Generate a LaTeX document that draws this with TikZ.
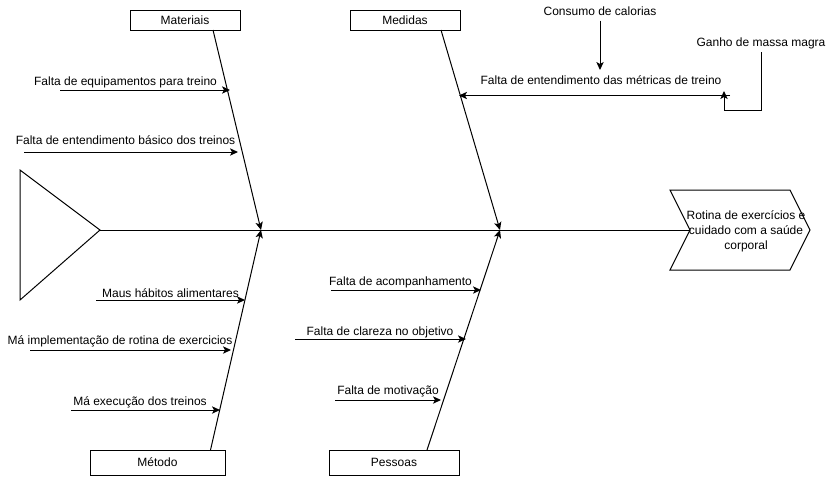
\documentclass[tikz,border=0pt]{standalone}
\usepackage{fontspec}
\setmainfont{Liberation Sans}
\usetikzlibrary{arrows.meta}

\begin{document}
\begin{tikzpicture}[
    x=0.75pt, y=-0.75pt, line width=0.75pt,
    catbox/.style={rectangle, draw, inner sep=0pt, minimum width=82.5pt,
                   minimum height=15pt, font=\fontsize{9}{10.8}\selectfont},
    lbl/.style={inner sep=0pt, anchor=base, font=\fontsize{9}{10.8}\selectfont},
    arr/.style={-{Stealth[length=6pt, width=5.5pt, inset=1.5pt]}}
  ]
    \useasboundingbox (0,0) rectangle (831,476);

    % categories
    \node[catbox] (mat) at (185,20) {Materiais};
    \node[catbox] (med) at (405,20) {Medidas};
    \node[catbox, minimum width=101.25pt, minimum height=18.75pt] (met) at (157.5,462.5) {Método};
    \node[catbox, minimum width=97.5pt, minimum height=18.75pt] (pes) at (394,462.5) {Pessoas};

    % head and spine
    \draw (20,170) -- (100,230) coordinate (tail) -- (20,300) -- cycle;
    \draw (670,190) -- (790,190) -- (810,230) -- (790,270) -- (670,270)
          -- (690,230) coordinate (notch) -- cycle;
    \node[align=center, inner sep=0pt, font=\fontsize{9}{11.25}\selectfont] (eff) at (746,231)
          {Rotina de exercícios e\\cuidado com a saúde\\corporal};
    \draw (tail) -- (notch);

    % bones
    \coordinate (j1) at (261,230);
    \coordinate (j2) at (500,230);
    \coordinate (matft) at (213,30);
    \coordinate (medft) at (441,30);
    \coordinate (metft) at (210.5,450);
    \coordinate (pesft) at (427,450);
    \draw[arr] (matft) -- (j1);
    \draw[arr] (metft) -- (j1);
    \draw[arr] (medft) -- (j2);
    \draw[arr] (pesft) -- (j2);

    % causes, Materiais
    \node[lbl] (eqp) at (125.5,85) {Falta de equipamentos para treino};
    \coordinate (eqp0) at (60,90);  \coordinate (eqp1) at (230,90);
    \draw[arr] (eqp0) -- (eqp1);
    \node[lbl] (bas) at (125.5,144) {Falta de entendimento básico dos treinos};
    \coordinate (bas0) at (24,152); \coordinate (bas1) at (238,152);
    \draw[arr] (bas0) -- (bas1);

    % causes, Método
    \node[lbl] (hab) at (170.5,297) {Maus hábitos alimentares};
    \coordinate (hab0) at (96,300); \coordinate (hab1) at (245,300);
    \draw[arr] (hab0) -- (hab1);
    \node[lbl] (imp) at (120,344) {Má implementação de rotina de exercicios};
    \coordinate (imp0) at (30,350); \coordinate (imp1) at (231,350);
    \draw[arr] (imp0) -- (imp1);
    \node[lbl] (exe) at (140,405) {Má execução dos treinos};
    \coordinate (exe0) at (71,410); \coordinate (exe1) at (220,410);
    \draw[arr] (exe0) -- (exe1);

    % causes, Pessoas
    \node[lbl] (aco) at (400.5,285) {Falta de acompanhamento};
    \coordinate (aco0) at (331,290); \coordinate (aco1) at (481,290);
    \draw[arr] (aco0) -- (aco1);
    \node[lbl] (cla) at (380,335) {Falta de clareza no objetivo};
    \coordinate (cla0) at (295,339); \coordinate (cla1) at (466,339);
    \draw[arr] (cla0) -- (cla1);
    \node[lbl] (mot) at (388,394) {Falta de motivação};
    \coordinate (mot0) at (335,400); \coordinate (mot1) at (441,400);
    \draw[arr] (mot0) -- (mot1);

    % causes, Medidas
    \node[lbl] (mtr) at (601,84) {Falta de entendimento das métricas de treino};
    \coordinate (mtr0) at (730,95.5); \coordinate (mtr1) at (459,95.5);
    \draw[arr] (mtr0) -- (mtr1);
    \node[lbl] (cal) at (600,15) {Consumo de calorias};
    \coordinate (cal1) at (600,70);
    \draw[arr] (cal.south |- 0,20.5) -- (cal1);
    \node[lbl] (gan) at (761,46) {Ganho de massa magra};
    \coordinate (gan0) at (761,52);
    \coordinate (gan1) at (724,91);
    \draw[arr] (gan0) -- (761,110) -| (gan1);
\end{tikzpicture}
\end{document}
